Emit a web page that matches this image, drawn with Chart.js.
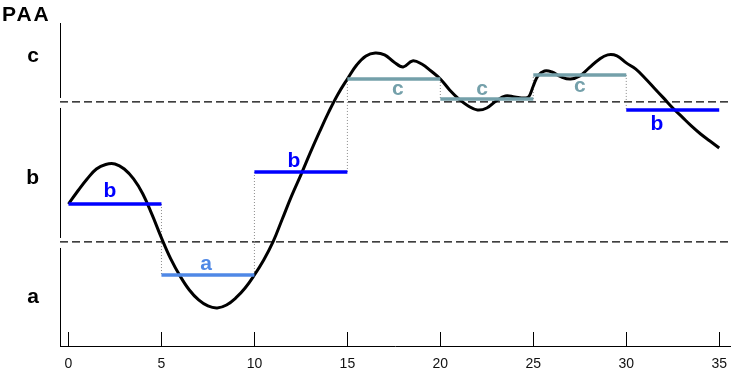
<!DOCTYPE html>
<html>
<head>
<meta charset="utf-8">
<title>PAA</title>
<script src="https://cdn.jsdelivr.net/npm/chart.js@4.4.1/dist/chart.umd.min.js"></script>
<style>
    html, body { margin: 0; padding: 0; background: #fff; }
    canvas { display: block; }
</style>
</head>
<body>
<canvas id="myChart" width="741" height="372"></canvas>
<script>
// time series
const seriesX = [0, 0.5, 1, 1.5, 2, 2.5, 3, 3.5, 4, 4.5, 5, 5.5, 6, 6.5, 7, 7.5, 8, 8.5, 9, 9.5,
    10, 10.5, 11, 11.5, 12, 12.5, 13, 13.5, 14, 14.5, 15, 15.5, 16, 16.5, 17, 17.5, 18, 18.5, 19, 19.5,
    20, 20.5, 21, 21.5, 22, 22.5, 23, 23.5, 24, 24.5, 24.75, 25, 25.25, 25.6, 26, 26.5, 27, 27.5, 28, 28.5,
    29, 29.5, 30, 30.5, 31, 31.5, 32, 32.5, 33, 33.5, 34, 34.5, 35];
const seriesY = [-0.197, -0.117, -0.043, 0.018, 0.046, 0.049, 0.018, -0.043, -0.135, -0.264,
    -0.405, -0.534, -0.639, -0.725, -0.786, -0.823, -0.835, -0.817, -0.774, -0.713,
    -0.633, -0.541, -0.43, -0.289, -0.147, -0.018, 0.117, 0.246, 0.369, 0.479,
    0.571, 0.657, 0.713, 0.731, 0.719, 0.676, 0.645, 0.682, 0.663, 0.620,
    0.571, 0.504, 0.448, 0.405, 0.381, 0.393, 0.436, 0.467, 0.461, 0.455, 0.461, 0.528, 0.590, 0.620,
    0.614, 0.584, 0.571, 0.590, 0.639, 0.688, 0.719, 0.713, 0.670, 0.633,
    0.577, 0.516, 0.455, 0.393, 0.338, 0.283, 0.233, 0.190, 0.147];

// PAA segments
const segmentStarts = [0, 5, 10, 15, 20, 25, 30];
const segmentLength = 5;
const paaValues = [-0.197, -0.633, 0.0, 0.571, 0.448, 0.596, 0.381];
const paaSymbols = ['b', 'a', 'b', 'c', 'c', 'c', 'b'];

// breakpoints and y labels
const breakpoints = [-0.43, 0.43];
const symbolLevels = [-0.768, -0.037, 0.713];
const symbolNames = ['a', 'b', 'c'];

const xTicks = [0, 5, 10, 15, 20, 25, 30, 35];

const X_MIN = -0.457, X_MAX = 35.58;
const symbolColors = { a: '#4f88e6', b: '#0000ff', c: '#74a0aa' };
const FONT = '"Liberation Sans", Arial, sans-serif';

const datasets = [];

paaValues.forEach((v, i) => {
    datasets.push({
        data: [{ x: segmentStarts[i], y: v }, { x: segmentStarts[i] + segmentLength, y: v }],
        borderColor: symbolColors[paaSymbols[i]],
        borderWidth: 3.5,
        borderCapStyle: 'butt',
        pointRadius: 0
    });
});

datasets.push({
    data: seriesX.map((x, i) => ({ x: x, y: seriesY[i] })),
    borderColor: '#000',
    borderWidth: 3,
    tension: 0.4,
    pointRadius: 0
});

for (let i = 1; i < paaValues.length; i++) {
    datasets.push({
        data: [{ x: segmentStarts[i], y: paaValues[i - 1] }, { x: segmentStarts[i], y: paaValues[i] }],
        borderColor: '#8a8a8a',
        borderWidth: 1,
        borderDash: [1, 2],
        pointRadius: 0
    });
}

breakpoints.forEach((b) => {
    datasets.push({
        data: [{ x: X_MIN, y: b }, { x: X_MAX - 0.1, y: b }],
        borderColor: '#000',
        borderWidth: 1.3,
        borderDash: [8, 4],
        pointRadius: 0
    });
});

// white gaps on the y axis where the breakpoints cross it
const axisGaps = {
    id: 'axisGaps',
    beforeDatasetsDraw(chart) {
        const ctx = chart.ctx;
        const y = chart.scales.y;
        ctx.save();
        ctx.fillStyle = '#fff';
        breakpoints.forEach((b) => {
            const py = y.getPixelForValue(b);
            ctx.fillRect(chart.chartArea.left - 3, py - 4, 6, 10);
        });
        ctx.restore();
    }
};

// tick marks pointing up into the plot, plus the "PAA" heading
const innerTicks = {
    id: 'innerTicks',
    afterDraw(chart) {
        const ctx = chart.ctx;
        const x = chart.scales.x;
        const bottom = chart.chartArea.bottom;
        ctx.save();
        ctx.strokeStyle = '#000';
        ctx.lineWidth = 1;
        xTicks.forEach((t) => {
            const px = Math.round(x.getPixelForValue(t)) + 0.5;
            ctx.beginPath();
            ctx.moveTo(px, bottom - 14);
            ctx.lineTo(px, bottom);
            ctx.stroke();
        });
        ctx.fillStyle = '#000';
        ctx.font = 'bold 21px ' + FONT;
        ctx.letterSpacing = '2px';
        ctx.textBaseline = 'alphabetic';
        ctx.fillText('PAA', 2, 21);
        ctx.restore();
    }
};

const symbolLabels = {
    id: 'symbolLabels',
    afterDatasetsDraw(chart, args, opts) {
        const ctx = chart.ctx;
        const x = chart.scales.x;
        const y = chart.scales.y;
        ctx.save();
        ctx.font = 'bold 21px ' + FONT;
        ctx.textAlign = 'center';
        ctx.textBaseline = 'middle';
        paaSymbols.forEach((s, i) => {
            ctx.fillStyle = symbolColors[s];
            const px = x.getPixelForValue(opts.labelX[i]);
            const py = y.getPixelForValue(paaValues[i]) + opts.offsets[i];
            ctx.fillText(s, px, py);
        });
        ctx.restore();
    }
};

const ctx = document.getElementById('myChart');
const myChart = new Chart(ctx, {
    type: 'line',
    data: { datasets: datasets },
    plugins: [axisGaps, innerTicks, symbolLabels],
    options: {
        responsive: false,
        animation: false,
        layout: { autoPadding: false, padding: { left: 0, right: 11, top: 23, bottom: 0 } },
        plugins: {
            legend: { display: false },
            tooltip: { enabled: false },
            title: { display: false },
            symbolLabels: {
                labelX: [2.23, 7.4, 12.13, 17.72, 22.24, 27.51, 31.65],
                offsets: [-13, -11, -11, 10, -10, 11, 14]
            }
        },
        scales: {
            x: {
                type: 'linear',
                min: X_MIN,
                max: X_MAX,
                afterBuildTicks: (scale) => { scale.ticks = xTicks.map((v) => ({ value: v })); },
                afterFit: (scale) => {
                    scale.height = 26;
                    scale.paddingLeft = 0;
                    scale.paddingRight = 0;
                },
                grid: { display: false, drawTicks: false },
                border: { display: true, color: '#000', width: 1 },
                ticks: {
                    padding: 10,
                    color: '#111',
                    maxRotation: 0,
                    font: { family: FONT, size: 14 }
                }
            },
            y: {
                type: 'linear',
                min: -1.069,
                max: 0.915,
                afterBuildTicks: (scale) => { scale.ticks = symbolLevels.map((v) => ({ value: v })); },
                afterFit: (scale) => {
                    scale.width = 60;
                    scale.paddingTop = 0;
                    scale.paddingBottom = 0;
                },
                grid: { display: false, drawTicks: false },
                border: { display: true, color: '#000', width: 1 },
                ticks: {
                    padding: 21,
                    color: '#000',
                    callback: (value, index) => symbolNames[index],
                    font: { family: FONT, size: 21, weight: 'bold' }
                }
            }
        }
    }
});
</script>
</body>
</html>
